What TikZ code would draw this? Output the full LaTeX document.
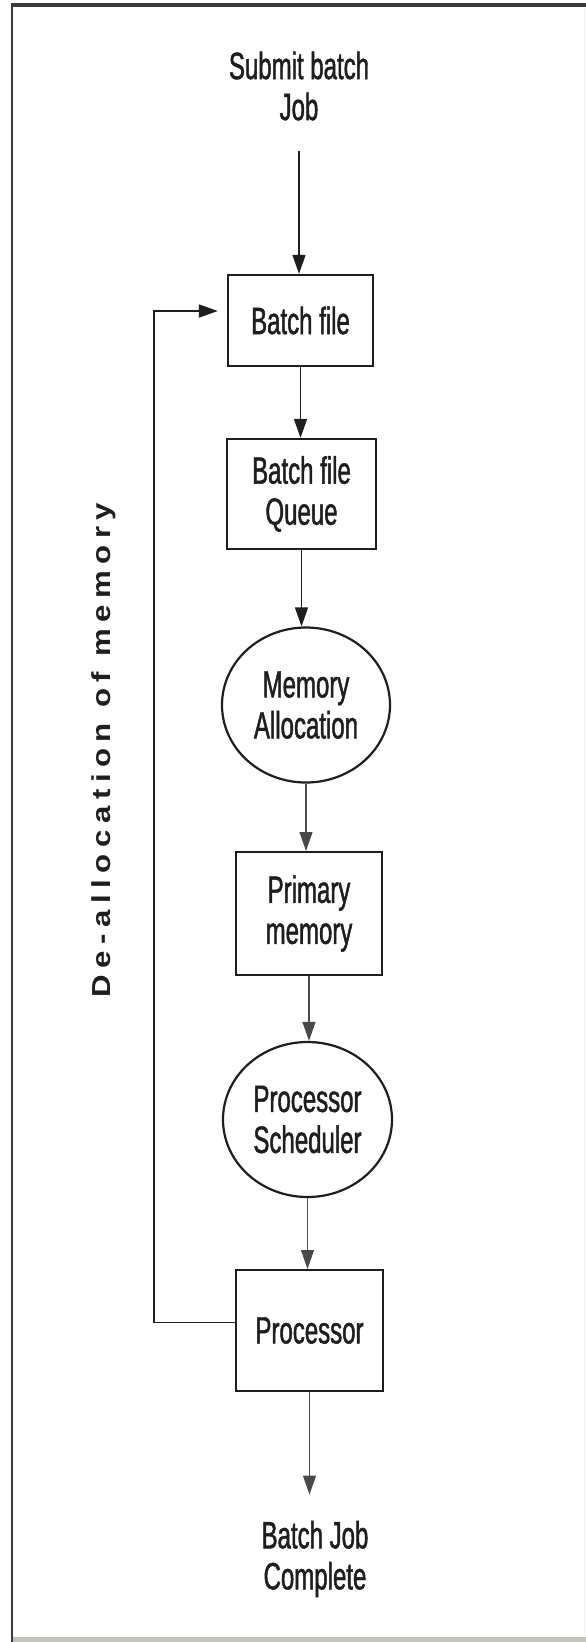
\documentclass[tikz,border=0pt]{standalone}
\usepackage{fontspec}
\setmainfont{Liberation Sans}[FakeStretch=0.632, FakeBold=1.2]
\newfontfamily\sidefont{Liberation Sans}[LetterSpace=25, FakeStretch=1.2]
\usetikzlibrary{shapes.geometric,arrows.meta}
\definecolor{ink}{HTML}{1E1E1E}
\definecolor{lightink}{HTML}{4A4A4A}
\definecolor{framegray}{HTML}{3A3A3A}
\definecolor{basebar}{HTML}{C2C6BA}
\newcommand\flowsize{\fontsize{38}{41}\selectfont}
\begin{document}
\begin{tikzpicture}[x=1pt,y=-1pt,
  lbl/.style={align=center, text=ink, font=\flowsize, inner sep=0pt},
  procbox/.style={draw=ink, line width=2.4pt, align=center, text=ink,
    font=\flowsize, inner sep=0pt},
  oval/.style={ellipse, draw=ink, line width=2.2pt, align=center, text=ink,
    font=\flowsize, inner sep=0pt, minimum width=168pt, minimum height=155pt},
  flow/.style={-{Triangle[length=19pt,width=13pt]}, line width=1.6pt, draw=ink},
  thinflow/.style={-{Triangle[length=19pt,width=13pt]}, line width=1.1pt, draw=lightink}]

% page and frame
\useasboundingbox (0,0) rectangle (586,1642);
\fill[white] (0,0) rectangle (586,1642);
\fill[basebar] (13,1637) rectangle (586,1642);
\draw[black!6, line width=1pt] (584,7) -- (584,1637);
\draw[framegray, line width=4pt] (10.8,4.5) -- (586,4.5);
\draw[framegray, line width=2.5pt] (12,2.5) -- (12,1642);

% flow nodes
\node[lbl] (submit) at (299,86) {Submit batch\\Job};
\node[procbox, minimum width=145pt, minimum height=91pt] (batch) at (300.5,320.5) {Batch file};
\node[procbox, minimum width=149pt, minimum height=110pt] (queue) at (301.5,494) {Batch file\\Queue};
\node[oval] (alloc) at (306,705) {Memory\\Allocation};
\node[procbox, line width=2pt, minimum width=146pt, minimum height=123pt] (primary) at (309,913.5) {Primary\\memory};
\node[oval, minimum width=169pt] (sched) at (307.5,1119.5) {Processor\\Scheduler};
\node[procbox, line width=2pt, minimum width=147pt, minimum height=121pt] (proc) at (309.5,1330.5) {Processor};
\node[lbl] (done) at (315,1559) {Batch Job\\Complete};

% side label
\node[rotate=90, text=ink, inner sep=0pt,
  font=\sidefont\bfseries\fontsize{26}{30}\selectfont] (dealloc) at (104,750) {De-allocation of memory};

% connectors
\draw[flow, shorten <=30pt] (submit.south) -- (submit.south |- batch.north);
\draw[flow] (batch.south) -- (batch.south |- queue.north);
\draw[flow] (queue.south) -- (queue.south |- alloc.north);
\draw[thinflow] (alloc.south) -- (alloc.south |- primary.north);
\draw[thinflow] (primary.south) -- (primary.south |- sched.north);
\draw[thinflow] (sched.south) -- (sched.south |- proc.north);
\draw[thinflow, shorten >=26pt] (proc.south) -- (proc.south |- done.north);

% de-allocation feedback loop
\coordinate (loopfoot) at ([yshift=8pt]proc.west);
\coordinate (loophead) at ([yshift=9.5pt]batch.west);
\draw[flow, line width=1.8pt, shorten >=9pt] (loopfoot) -- ++(-81,0) |- (loophead);
\end{tikzpicture}
\end{document}
